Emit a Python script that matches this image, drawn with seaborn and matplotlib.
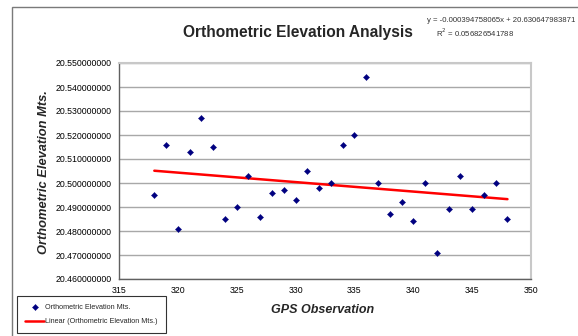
import matplotlib
matplotlib.use("Agg")
import matplotlib.pyplot as plt
import matplotlib.patches as patches
import seaborn as sns
import numpy as np
import pandas as pd

# GPS observation number and orthometric elevation (m)
gps_obs = [318, 319, 320, 321, 322, 323, 324, 325, 326, 327, 328, 329, 330,
           331, 332, 333, 334, 335, 336, 337, 338, 339, 340, 341, 342, 343,
           344, 345, 346, 347, 348]
elevation = [20.495, 20.516, 20.481, 20.513, 20.527, 20.515, 20.485, 20.490,
             20.503, 20.486, 20.496, 20.497, 20.493, 20.505, 20.498, 20.500,
             20.516, 20.520, 20.544, 20.500, 20.487, 20.492, 20.484, 20.500,
             20.471, 20.489, 20.503, 20.489, 20.495, 20.500, 20.485]

y_ticks = [20.46, 20.47, 20.48, 20.49, 20.50, 20.51, 20.52, 20.53, 20.54, 20.55]
x_ticks = [315, 320, 325, 330, 335, 340, 345, 350]

eq_text = "y = -0.000394758065x + 20.630647983871"
r2_text = "R$^2$ = 0.056826541788"

df = pd.DataFrame({"gps": gps_obs, "elev": elevation})

sns.set_theme(style="white")
plt.rcParams["font.family"] = ["Liberation Sans", "DejaVu Sans"]

fig = plt.figure(figsize=(5.78, 3.36), dpi=100)
ax = fig.add_axes([119 / 578, 1 - 279 / 336, 412 / 578, 216 / 336])

# chart area border
fig.patches.append(patches.Rectangle((12 / 578, -0.1), 1.2, 1.1 - 7 / 336,
                                     transform=fig.transFigure, fill=False,
                                     edgecolor="#7a7a7a", lw=1.0))

# gridlines
for yt in y_ticks:
    ax.axhline(yt, color="#a8a8a8", lw=1.0, zorder=0)

sns.scatterplot(data=df, x="gps", y="elev", marker="D", s=10, color="#000080",
                edgecolor="#000080", ax=ax, zorder=3,
                label="Orthometric Elevation Mts.", legend=False)
sns.regplot(data=df, x="gps", y="elev", scatter=False, ci=None, truncate=True,
            ax=ax, label="Linear (Orthometric Elevation Mts.)",
            line_kws={"color": "#ff0000", "lw": 1.8, "zorder": 2})

ax.set_xlim(315, 350)
ax.set_ylim(20.46, 20.55)
ax.set_xticks(x_ticks)
ax.set_yticks(y_ticks)
ax.set_yticklabels([f"{v:.9f}" for v in y_ticks])
ax.tick_params(axis="both", labelsize=6.3, colors="#000000", length=3,
               width=0.8, direction="out", pad=2)
ax.tick_params(axis="both", color="#606060")

for s in ["left", "bottom"]:
    ax.spines[s].set_color("#606060")
    ax.spines[s].set_linewidth(1.0)
for s in ["top", "right"]:
    ax.spines[s].set_color("#c8c8c8")
    ax.spines[s].set_linewidth(1.5)

ax.set_xlabel("GPS Observation", fontsize=9, fontweight="bold", style="italic")
ax.set_ylabel("Orthometric Elevation Mts.", fontsize=9.3, fontweight="bold",
              style="italic")
ax.xaxis.set_label_coords((323 - 119) / 412, (279 - 304) / 216)
ax.yaxis.set_label_coords((50 - 119) / 412, (279 - 172) / 216)

fig.text(298 / 578, 1 - 32 / 336, "Orthometric Elevation Analysis",
         fontsize=11.2, fontweight="bold", ha="center", va="center")
fig.text(575 / 578, 1 - 20 / 336, eq_text, fontsize=5.6, ha="right",
         va="center", color="#333333")
fig.text(475 / 578, 1 - 33 / 336, r2_text, fontsize=5.6, ha="center",
         va="center", color="#333333")

handles, labels = ax.get_legend_handles_labels()
leg = fig.legend(handles, labels, loc="lower left",
                 bbox_to_anchor=(17 / 578, 3 / 336), borderaxespad=0,
                 fontsize=5.2, frameon=True, fancybox=False,
                 edgecolor="#000000", handlelength=2.7, labelspacing=1.0,
                 borderpad=1.1, handletextpad=0.1)
leg.get_frame().set_linewidth(0.8)

fig.savefig("out.png", dpi=100)
